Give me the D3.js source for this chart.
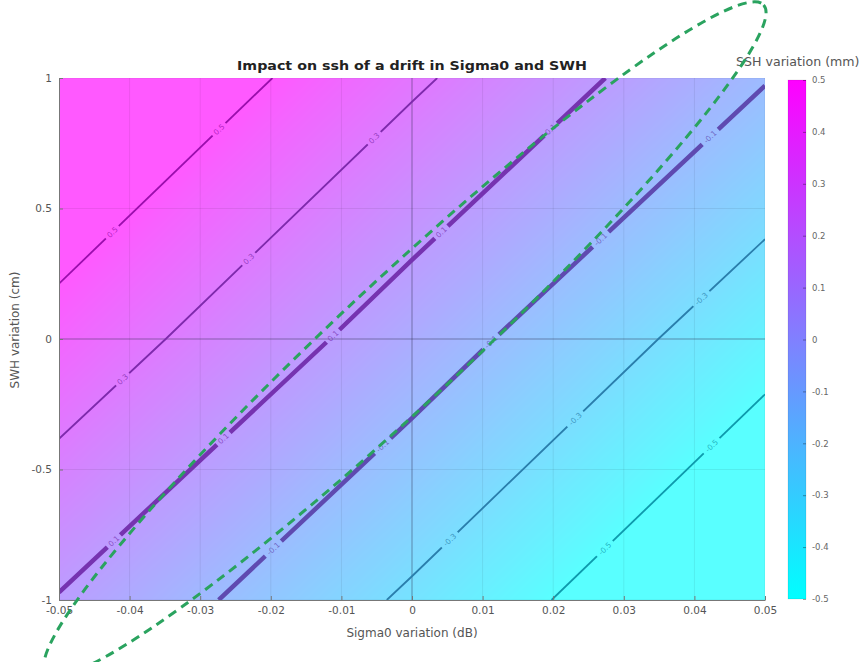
<!DOCTYPE html>
<html>
<head>
<meta charset="utf-8">
<script src="https://cdn.jsdelivr.net/npm/d3@7"></script>
<style>
body { margin: 0; background: #fff; }
svg { display: block; font-family: "DejaVu Sans", sans-serif; }
</style>
</head>
<body>
<script>
// SSH variation (mm) read at sigma0 (dB) x SWH (cm) sample points
var sigma0Values = [-0.05, 0, 0.05];
var swhValues = [-1, 0, 1];
var sshValues = [
    [0.09, -0.33, -0.76],   // swh = -1
    [0.43, 0.00, -0.43],    // swh = 0
    [0.76, 0.33, -0.09]     // swh = 1
];
var contourLevels = [-0.5, -0.3, -0.1, 0.1, 0.3, 0.5];
var thickLevels = [-0.1, 0.1];
var xTicks = [-0.05, -0.04, -0.03, -0.02, -0.01, 0, 0.01, 0.02, 0.03, 0.04, 0.05];
var yTicks = [-1, -0.5, 0, 0.5, 1];
var cbTicks = [-0.5, -0.4, -0.3, -0.2, -0.1, 0, 0.1, 0.2, 0.3, 0.4, 0.5];
// hand-drawn ellipse annotation, tips in data units
var ellipseTips = [[0.0498, 1.28], [-0.0518, -1.28]];

function sshAt(s, w)
{
    var i = Math.max(0, Math.min(sigma0Values.length - 2, d3.bisectRight(sigma0Values, s) - 1));
    var j = Math.max(0, Math.min(swhValues.length - 2, d3.bisectRight(swhValues, w) - 1));
    var tx = (s - sigma0Values[i]) / (sigma0Values[i + 1] - sigma0Values[i]);
    var ty = (w - swhValues[j]) / (swhValues[j + 1] - swhValues[j]);
    var a = sshValues[j][i], b = sshValues[j][i + 1];
    var c = sshValues[j + 1][i], d = sshValues[j + 1][i + 1];
    return a * (1 - tx) * (1 - ty) + b * tx * (1 - ty) + c * (1 - tx) * ty + d * tx * ty;
}

function draw()
{
    var W = 864, H = 662;
    var m = {left: 59, right: 765, top: 78, bottom: 600};

    var x = d3.scaleLinear().domain([-0.05, 0.05]).range([m.left, m.right]);
    var y = d3.scaleLinear().domain([-1, 1]).range([m.bottom, m.top]);
    var cool = d3.scaleLinear().domain([-0.5, 0.5]).range(["#00ffff", "#ff00ff"]).clamp(true);

    var svg = d3.select("body").append("svg")
        .attr("width", W)
        .attr("height", H);
    var defs = svg.append("defs");

    defs.append("clipPath").attr("id", "plotClip")
        .append("rect")
        .attr("x", m.left).attr("y", m.top)
        .attr("width", m.right - m.left).attr("height", m.bottom - m.top);

    // background field raster
    var pw = m.right - m.left, ph = m.bottom - m.top;
    var canvas = document.createElement("canvas");
    canvas.width = pw;
    canvas.height = ph;
    var ctx = canvas.getContext("2d");
    var img = ctx.createImageData(pw, ph);
    var alpha = 0.65;
    for (var j = 0; j < ph; j++)
    {
        for (var i = 0; i < pw; i++)
        {
            var v = sshAt(x.invert(m.left + i + 0.5), y.invert(m.top + j + 0.5));
            var c = d3.rgb(cool(v));
            var k = (j * pw + i) * 4;
            img.data[k] = 255 + (c.r - 255) * alpha;
            img.data[k + 1] = 255 + (c.g - 255) * alpha;
            img.data[k + 2] = 255 + (c.b - 255) * alpha;
            img.data[k + 3] = 255;
        }
    }
    ctx.putImageData(img, 0, 0);
    svg.append("image")
        .attr("x", m.left).attr("y", m.top)
        .attr("width", pw).attr("height", ph)
        .attr("preserveAspectRatio", "none")
        .attr("href", canvas.toDataURL());

    // grid
    var grid = svg.append("g").attr("clip-path", "url(#plotClip)");
    grid.selectAll("line.vx").data(xTicks).enter().append("line")
        .attr("x1", d => x(d)).attr("x2", d => x(d))
        .attr("y1", m.top).attr("y2", m.bottom)
        .attr("stroke", d => d === 0 ? "rgba(40,40,70,0.45)" : "rgba(0,0,0,0.07)")
        .attr("stroke-width", 1);
    grid.selectAll("line.hy").data(yTicks).enter().append("line")
        .attr("y1", d => y(d)).attr("y2", d => y(d))
        .attr("x1", m.left).attr("x2", m.right)
        .attr("stroke", d => d === 0 ? "rgba(40,40,70,0.45)" : "rgba(0,0,0,0.07)")
        .attr("stroke-width", 1);

    // contours
    var n = sigma0Values.length, mRows = swhValues.length;
    var flat = [];
    sshValues.forEach(function (row) { row.forEach(function (v) { flat.push(v); }); });
    var gx = d3.scaleLinear().domain([0.5, n - 0.5]).range([sigma0Values[0], sigma0Values[n - 1]]);
    var gy = d3.scaleLinear().domain([0.5, mRows - 0.5]).range([swhValues[0], swhValues[mRows - 1]]);
    var contours = d3.contours().size([n, mRows]).thresholds(contourLevels)(flat);

    function runsOf(ring)
    {
        var pts = ring.map(function (p) { return [x(gx(p[0])), y(gy(p[1]))]; });
        var inside = pts.map(function (p) {
            return p[0] >= m.left - 0.5 && p[0] <= m.right + 0.5 && p[1] >= m.top - 0.5 && p[1] <= m.bottom + 0.5;
        });
        var start = inside.indexOf(false);
        if (start < 0) return [pts];
        var runs = [], cur = [];
        for (var q = 1; q <= pts.length; q++)
        {
            var idx = (start + q) % pts.length;
            if (inside[idx]) cur.push(pts[idx]);
            else { if (cur.length > 1) runs.push(cur); cur = []; }
        }
        return runs;
    }

    function lineColor(level)
    {
        if (thickLevels.indexOf(level) >= 0) return d3.interpolateRgb(cool(level), "#5a0a70")(0.55);
        return d3.interpolateRgb(cool(level), "#1e1e46")(0.45);
    }

    var lines = [], labels = [];
    contours.forEach(function (ct) {
        ct.coordinates.forEach(function (poly) {
            poly.forEach(function (ring) {
                runsOf(ring).forEach(function (run) {
                    lines.push({level: ct.value, pts: run});
                    var cum = [0];
                    for (var q = 1; q < run.length; q++)
                        cum.push(cum[q - 1] + Math.hypot(run[q][0] - run[q - 1][0], run[q][1] - run[q - 1][1]));
                    var len = cum[cum.length - 1];
                    var count = Math.max(1, Math.round(len / 160));
                    for (var t = 0; t < count; t++)
                    {
                        var L = len * (t + 0.5) / count;
                        var s = Math.max(1, d3.bisectLeft(cum, L));
                        var f = (L - cum[s - 1]) / (cum[s] - cum[s - 1] || 1);
                        var p0 = run[s - 1], p1 = run[s];
                        var ang = Math.atan2(p1[1] - p0[1], p1[0] - p0[0]) * 180 / Math.PI;
                        if (ang > 90) ang -= 180;
                        if (ang < -90) ang += 180;
                        labels.push({
                            level: ct.value,
                            x: p0[0] + (p1[0] - p0[0]) * f,
                            y: p0[1] + (p1[1] - p0[1]) * f,
                            angle: ang
                        });
                    }
                });
            });
        });
    });

    var mask = defs.append("mask").attr("id", "gapMask")
        .attr("maskUnits", "userSpaceOnUse")
        .attr("x", 0).attr("y", 0).attr("width", W).attr("height", H);
    mask.append("rect").attr("x", 0).attr("y", 0).attr("width", W).attr("height", H).attr("fill", "white");
    mask.selectAll("rect.gap").data(labels).enter().append("rect")
        .attr("x", d => d.level < 0 ? -11 : -9)
        .attr("y", -6)
        .attr("width", d => d.level < 0 ? 22 : 18)
        .attr("height", 12)
        .attr("transform", d => "translate(" + d.x + "," + d.y + ") rotate(" + d.angle + ")")
        .attr("fill", "black");

    var cg = svg.append("g").attr("clip-path", "url(#plotClip)");
    cg.append("g").attr("mask", "url(#gapMask)")
        .selectAll("path").data(lines).enter().append("path")
        .attr("d", d => d3.line()(d.pts))
        .attr("fill", "none")
        .attr("stroke", d => lineColor(d.level))
        .attr("stroke-width", d => thickLevels.indexOf(d.level) >= 0 ? 4.5 : 1.8)
        .attr("stroke-linecap", "butt");
    cg.selectAll("text").data(labels).enter().append("text")
        .attr("transform", d => "translate(" + d.x + "," + d.y + ") rotate(" + d.angle + ")")
        .attr("text-anchor", "middle")
        .attr("dy", "0.35em")
        .attr("font-size", "7.5px")
        .attr("fill", d => lineColor(d.level))
        .attr("fill-opacity", 0.75)
        .text(d => String(d.level));

    // axes
    var fmt2 = d => String(+d.toFixed(2));
    var xAxis = svg.append("g")
        .attr("transform", "translate(0," + m.bottom + ")")
        .call(d3.axisBottom(x).tickValues(xTicks).tickFormat(fmt2)
            .tickSizeInner(-4).tickSizeOuter(0).tickPadding(7));
    var yAxis = svg.append("g")
        .attr("transform", "translate(" + m.left + ",0)")
        .call(d3.axisLeft(y).tickValues(yTicks).tickFormat(fmt2)
            .tickSizeInner(-4).tickSizeOuter(0).tickPadding(7));
    [xAxis, yAxis].forEach(function (a) {
        a.select(".domain").attr("stroke", "#777");
        a.selectAll(".tick line").attr("stroke", "#777");
        a.selectAll(".tick text").attr("fill", "#555").attr("font-size", "10.5px")
            .attr("font-family", "DejaVu Sans, sans-serif");
    });

    svg.append("text")
        .attr("x", (m.left + m.right) / 2).attr("y", 70)
        .attr("text-anchor", "middle")
        .attr("font-weight", "bold")
        .attr("font-size", "12.5px")
        .attr("textLength", 350)
        .attr("lengthAdjust", "spacingAndGlyphs")
        .attr("fill", "#222")
        .text("Impact on ssh of a drift in Sigma0 and SWH");

    svg.append("text")
        .attr("x", (m.left + m.right) / 2).attr("y", 637)
        .attr("text-anchor", "middle")
        .attr("font-size", "12px")
        .attr("fill", "#555")
        .text("Sigma0 variation (dB)");

    svg.append("text")
        .attr("transform", "translate(19,330) rotate(-90)")
        .attr("text-anchor", "middle")
        .attr("font-size", "12px")
        .attr("fill", "#555")
        .text("SWH variation (cm)");

    // colorbar
    var cbX = 788, cbW = 18;
    var cbY = d3.scaleLinear().domain([-0.5, 0.5]).range([599, 80]);
    var grad = defs.append("linearGradient").attr("id", "cbGrad")
        .attr("x1", 0).attr("y1", 1).attr("x2", 0).attr("y2", 0);
    grad.selectAll("stop").data(cbTicks).enter().append("stop")
        .attr("offset", d => ((d + 0.5) * 100) + "%")
        .attr("stop-color", d => cool(d));
    svg.append("rect")
        .attr("x", cbX).attr("y", cbY(0.5))
        .attr("width", cbW).attr("height", cbY(-0.5) - cbY(0.5))
        .attr("fill", "url(#cbGrad)")
        .attr("stroke", "rgba(0,0,0,0.15)")
        .attr("stroke-width", 0.6);
    var cbAxis = svg.append("g")
        .attr("transform", "translate(" + (cbX + cbW) + ",0)")
        .call(d3.axisRight(cbY).tickValues(cbTicks).tickFormat(d => String(+d.toFixed(1)))
            .tickSizeInner(-3).tickSizeOuter(0).tickPadding(6));
    cbAxis.select(".domain").attr("stroke", "none");
    cbAxis.selectAll(".tick line").attr("stroke", "rgba(0,0,0,0.35)");
    cbAxis.selectAll(".tick text").attr("fill", "#666").attr("font-size", "8.5px")
        .attr("font-family", "DejaVu Sans, sans-serif");

    svg.append("text")
        .attr("x", 736).attr("y", 66)
        .attr("font-size", "12.6px")
        .attr("fill", "#555")
        .text("SSH variation (mm)");

    // green dashed ellipse annotation
    var e0 = [x(ellipseTips[0][0]), y(ellipseTips[0][1])];
    var e1 = [x(ellipseTips[1][0]), y(ellipseTips[1][1])];
    var ecx = (e0[0] + e1[0]) / 2, ecy = (e0[1] + e1[1]) / 2;
    var erx = Math.hypot(e0[0] - e1[0], e0[1] - e1[1]) / 2;
    var eang = Math.atan2(e0[1] - e1[1], e0[0] - e1[0]) * 180 / Math.PI;
    svg.append("ellipse")
        .attr("cx", ecx).attr("cy", ecy)
        .attr("rx", erx).attr("ry", 62)
        .attr("transform", "rotate(" + eang + "," + ecx + "," + ecy + ")")
        .attr("fill", "none")
        .attr("stroke", "#2aa35f")
        .attr("stroke-width", 3)
        .attr("stroke-dasharray", "9,6");
}
window.onload = draw;
</script>
</body>
</html>
